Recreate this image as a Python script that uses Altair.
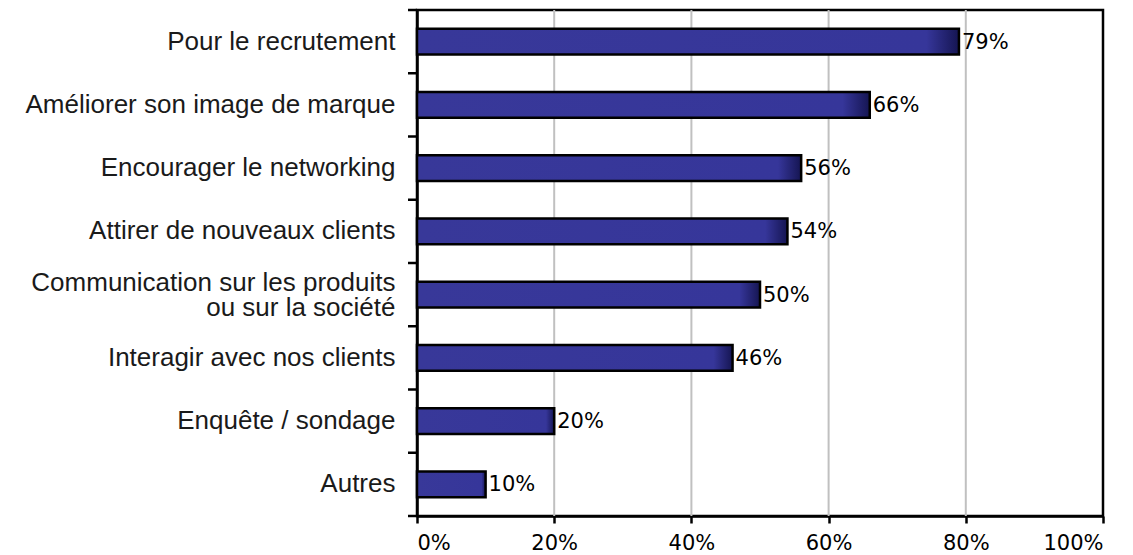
import altair as alt
import pandas as pd

categories = [
    "Pour le recrutement",
    "Améliorer son image de marque",
    "Encourager le networking",
    "Attirer de nouveaux clients",
    "Communication sur les produits|ou sur la société",
    "Interagir avec nos clients",
    "Enquête / sondage",
    "Autres",
]
values = [79, 66, 56, 54, 50, 46, 20, 10]
x_ticks = [0, 20, 40, 60, 80, 100]
grid_values = [20, 40, 60, 80]

df = pd.DataFrame({"cat": categories, "val": values})
grid_df = pd.DataFrame({"g": grid_values})

gradient = alt.Gradient(
    gradient="linear",
    x1=0, x2=1, y1=0, y2=0,
    stops=[
        alt.GradientStop(offset=0, color="#383899"),
        alt.GradientStop(offset=0.94, color="#36369a"),
        alt.GradientStop(offset=1, color="#151552"),
    ],
)

W, H = 686, 506
step = H / len(categories)

xscale = alt.Scale(domain=[0, 100], nice=False)
yscale = alt.Scale(paddingInner=0.59, paddingOuter=0.295)

y_axis = alt.Axis(
    labelExpr="split(datum.label, '|')",
    labelFont="Liberation Sans",
    labelFontSize=26,
    labelColor="#1a1a1a",
    labelLineHeight=25,
    labelPadding=22,
    labelLimit=0,
    labelOffset={"condition": {"test": "indexof(datum.value, '|') >= 0", "value": -12}, "value": 0},
    ticks=False,
    domainColor="black",
    domainWidth=2.5,
    grid=False,
)

x_axis = alt.Axis(
    values=x_ticks,
    labelExpr="datum.value + '%'",
    labelFont="DejaVu Sans",
    labelFontSize=21,
    labelColor="black",
    labelPadding=9,
    tickSize=7,
    tickWidth=2.5,
    tickColor="black",
    domainColor="black",
    domainWidth=2.5,
    grid=False,
)

grid = alt.Chart(grid_df).mark_rule(color="#c0c0c0", strokeWidth=2).encode(
    x=alt.X("g:Q", scale=xscale, axis=x_axis, title=None)
)

bars = alt.Chart(df).mark_bar(
    fill=gradient, stroke="black", strokeWidth=2.5
).encode(
    x=alt.X("val:Q", title=None, scale=xscale, axis=x_axis),
    y=alt.Y("cat:N", sort=categories, title=None, scale=yscale, axis=y_axis),
)

texts = alt.Chart(df).transform_calculate(
    txt="datum.val + '%'"
).mark_text(
    align="left", baseline="middle", dx=3, dy=1,
    font="DejaVu Sans", fontSize=21, color="black"
).encode(
    x=alt.X("val:Q", scale=xscale, title=None, axis=x_axis),
    y=alt.Y("cat:N", sort=categories, title=None, scale=yscale, axis=y_axis),
    text="txt:N",
)

# category separator ticks on the left axis (at band boundaries)
yticks_bottom = alt.Chart(df).mark_rule(
    color="black", strokeWidth=2.5, yOffset=step / 2
).encode(
    y=alt.Y("cat:N", sort=categories, title=None, scale=yscale, axis=y_axis),
    x=alt.value(-9),
    x2=alt.value(0),
)

yticks_top = alt.Chart(df).transform_filter(
    alt.datum.cat == categories[0]
).mark_rule(
    color="black", strokeWidth=2.5, yOffset=-step / 2
).encode(
    y=alt.Y("cat:N", sort=categories, title=None, scale=yscale, axis=y_axis),
    x=alt.value(-9),
    x2=alt.value(0),
)

chart = alt.layer(grid, bars, texts, yticks_bottom, yticks_top).properties(
    width=W,
    height=H,
    autosize=alt.AutoSizeParams(type="none"),
    padding={"left": 409, "top": 2, "right": 20, "bottom": 40},
).configure(
    background="white",
    view=alt.ViewConfig(stroke="black", strokeWidth=2.5),
)

chart.save("out.html", embed_options={"renderer": "svg", "actions": False})
